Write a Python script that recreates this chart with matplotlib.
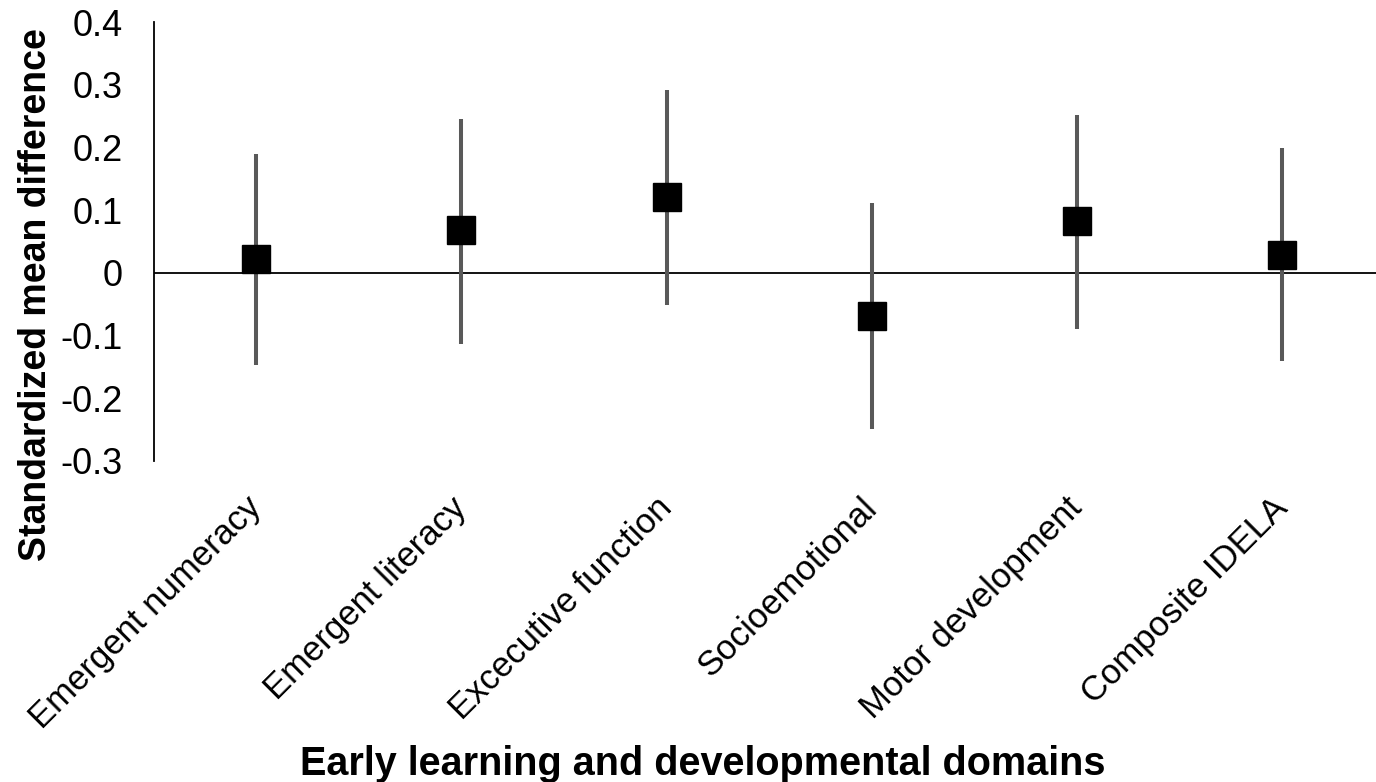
import matplotlib.pyplot as plt
import numpy as np

plt.rcParams['font.family'] = ['Liberation Sans', 'DejaVu Sans']

domains = ['Emergent numeracy', 'Emergent literacy', 'Excecutive function',
           'Socioemotional', 'Motor development', 'Composite IDELA']
smd = [0.022, 0.068, 0.121, -0.068, 0.082, 0.029]
ci_low = [-0.147, -0.113, -0.052, -0.249, -0.089, -0.141]
ci_high = [0.190, 0.246, 0.292, 0.112, 0.252, 0.199]

x = np.arange(len(domains))
smd = np.array(smd)
yerr = [smd - np.array(ci_low), np.array(ci_high) - smd]

fig = plt.figure(figsize=(13.76, 7.82), dpi=100)
ax = fig.add_axes([153.5 / 1376, 1 - 461 / 782, (1385 - 153.5) / 1376, (461 - 22) / 782])

ax.errorbar(x, smd, yerr=yerr, fmt='none', ecolor='#595959', elinewidth=2.9, capsize=0, zorder=2)
ax.plot(x, smd, 's', color='black', markersize=20, zorder=3)
ax.axhline(0, color='black', linewidth=1.3, zorder=1)

ax.set_xlim(-0.5, len(domains) - 0.5)
ax.set_ylim(-0.3, 0.4)
ax.set_yticks(np.arange(-0.3, 0.41, 0.1))
ax.set_yticklabels(['-0.3', '-0.2', '-0.1', '0', '0.1', '0.2', '0.3', '0.4'])
ax.set_xticks(x)
ax.set_xticklabels(domains, rotation=45, ha='right', va='center', rotation_mode='anchor')

for s in ['top', 'right', 'bottom']:
    ax.spines[s].set_visible(False)
ax.spines['left'].set_linewidth(1.3)
ax.tick_params(axis='y', length=0, pad=22, labelsize=26)
ax.tick_params(axis='x', length=0, pad=30, labelsize=25)

ax.set_ylabel('Standardized mean difference', fontsize=27, fontweight='bold')
ax.yaxis.set_label_coords(-0.081, 0.378)
ax.set_xlabel('Early learning and developmental domains', fontsize=28.5, fontweight='bold', va='baseline')
ax.xaxis.set_label_coords(0.446, -0.715)

fig.savefig('out.png', dpi=100)
